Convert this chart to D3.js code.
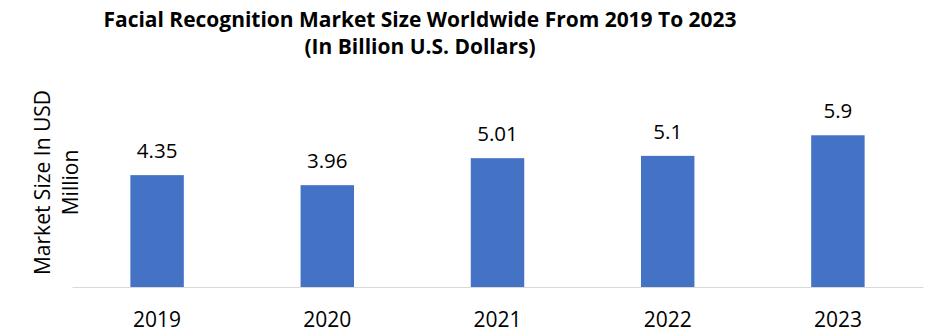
<!DOCTYPE html>
<html>
<head>
<meta charset="utf-8">
<script src="https://cdn.jsdelivr.net/npm/d3@7"></script>
<style>
  html, body { margin: 0; padding: 0; background: #fff; }
  svg { display: block; }
</style>
</head>
<body>
<script>
// Facial recognition market size, 2019–2023 (billion USD)
const years = ["2019", "2020", "2021", "2022", "2023"];
const marketSize = [4.35, 3.96, 5.01, 5.1, 5.9];
const valueLabels = ["4.35", "3.96", "5.01", "5.1", "5.9"];
const titleLines = [
  "Facial Recognition Market Size Worldwide From 2019 To 2023",
  "(In Billion U.S. Dollars)"
];
const yTitleLines = ["Market Size In USD", "Million"];

const W = 935, H = 335;
const left = 72, right = 923, baseY = 287, topY = 107;
const barColor = "#4472C4";
const sansFont = "'Open Sans', 'Noto Sans', 'DejaVu Sans', sans-serif";

const svg = d3.select("body").append("svg")
  .attr("width", W).attr("height", H);

const x = d3.scaleBand()
  .domain(years)
  .range([left, right])
  .paddingInner(0.686)
  .paddingOuter(0.343);

const y = d3.scaleLinear()
  .domain([0, 7])
  .range([baseY, topY]);

const data = years.map((yr, i) => ({ year: yr, value: marketSize[i], label: valueLabels[i] }));

// Bars
svg.append("g").selectAll("rect")
  .data(data).join("rect")
  .attr("x", d => x(d.year))
  .attr("y", d => y(d.value))
  .attr("width", x.bandwidth())
  .attr("height", d => y(0) - y(d.value))
  .attr("fill", barColor);

// Category axis: thin grey baseline, no ticks
const xAxis = svg.append("g")
  .attr("transform", `translate(0,${baseY})`)
  .call(d3.axisBottom(x).tickSize(0).tickPadding(0));
xAxis.select(".domain").attr("stroke", "#d9d9d9").attr("stroke-width", 1);
xAxis.selectAll(".tick text")
  .attr("y", 40)
  .attr("dy", 0)
  .attr("font-family", sansFont)
  .attr("font-size", 21)
  .attr("fill", "#000");

// Value labels above bars
svg.append("g").selectAll("text")
  .data(data).join("text")
  .attr("x", d => x(d.year) + x.bandwidth() / 2)
  .attr("y", d => y(d.value) - 17)
  .attr("text-anchor", "middle")
  .attr("font-family", sansFont)
  .attr("font-size", 20.5)
  .attr("fill", "#000")
  .text(d => d.label);

// Chart title
const titleWidths = [633, 231];
const titleBase = [27, 54];
svg.append("g").selectAll("text")
  .data(titleLines).join("text")
  .attr("x", 420)
  .attr("y", (d, i) => titleBase[i])
  .attr("text-anchor", "middle")
  .attr("font-family", sansFont)
  .attr("font-weight", "bold")
  .attr("font-size", 20.5)
  .attr("textLength", (d, i) => titleWidths[i])
  .attr("lengthAdjust", "spacingAndGlyphs")
  .attr("fill", "#000")
  .text(d => d);

// Vertical axis title (two lines)
const yTitle = svg.append("text")
  .attr("transform", "translate(50,182.5) rotate(-90)")
  .attr("text-anchor", "middle")
  .attr("font-family", sansFont)
  .attr("font-size", 21)
  .attr("fill", "#000");
yTitle.selectAll("tspan")
  .data(yTitleLines).join("tspan")
  .attr("x", 0)
  .attr("y", (d, i) => i * 28)
  .text(d => d);
</script>
</body>
</html>
